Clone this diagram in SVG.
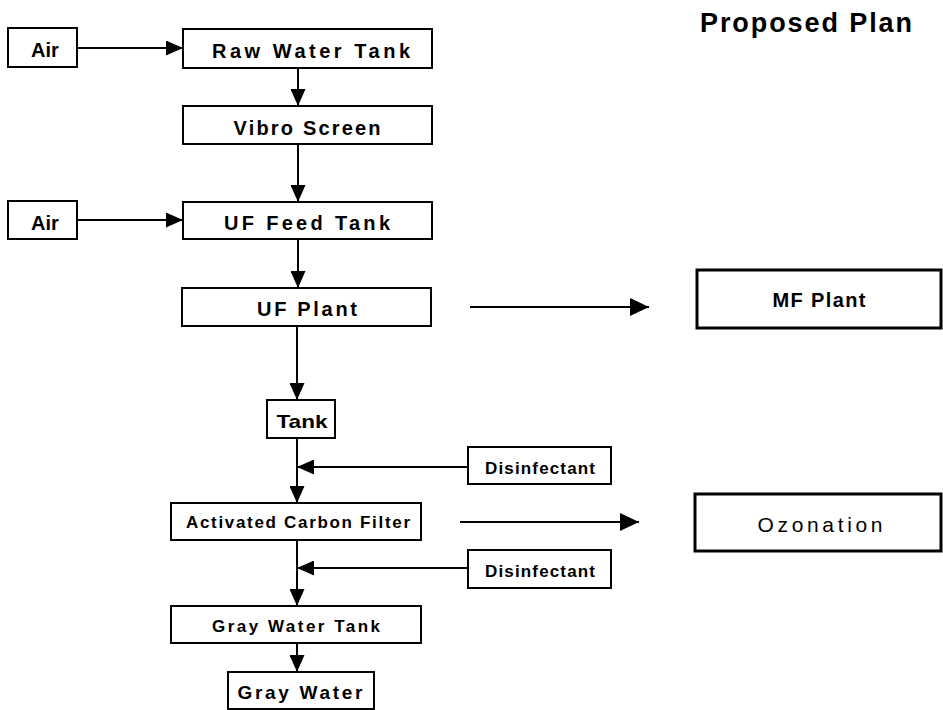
<svg xmlns="http://www.w3.org/2000/svg" width="943" height="710" viewBox="0 0 943 710">
<style>
.box{fill:#fff;stroke:#000;stroke-width:2}
.bigbox{fill:#fff;stroke:#000;stroke-width:3}
.t{font-family:"Liberation Sans",Arial,sans-serif;font-weight:bold;fill:#000;text-anchor:middle}
.line{stroke:#000;stroke-width:2;fill:none}
</style>
<defs>
<marker id="ah" markerUnits="userSpaceOnUse" markerWidth="17" markerHeight="15" refX="17" refY="7.5" orient="auto">
<path d="M0,0 L17,7.5 L0,15 z" fill="#000"/>
</marker>
<marker id="ahb" markerUnits="userSpaceOnUse" markerWidth="19" markerHeight="18" refX="19" refY="9" orient="auto">
<path d="M0,0 L19,9 L0,18 z" fill="#000"/>
</marker>
</defs>

<text class="t" x="806" y="32" font-size="27" textLength="212" lengthAdjust="spacing">Proposed  Plan</text>

<g id="connectors">
<line class="line" x1="77" y1="48" x2="183" y2="48" marker-end="url(#ah)"/>
<line class="line" x1="298" y1="68" x2="298" y2="106" marker-end="url(#ah)"/>
<line class="line" x1="298" y1="144" x2="298" y2="202" marker-end="url(#ah)"/>
<line class="line" x1="77" y1="220" x2="183" y2="220" marker-end="url(#ah)"/>
<line class="line" x1="298" y1="239" x2="298" y2="288" marker-end="url(#ah)"/>
<line class="line" x1="297" y1="326" x2="297" y2="400" marker-end="url(#ah)"/>
<line class="line" x1="297" y1="438" x2="297" y2="503" marker-end="url(#ah)"/>
<line class="line" x1="468" y1="467" x2="297" y2="467" marker-end="url(#ah)"/>
<line class="line" x1="297" y1="540" x2="297" y2="606" marker-end="url(#ah)"/>
<line class="line" x1="468" y1="568" x2="297" y2="568" marker-end="url(#ah)"/>
<line class="line" x1="297" y1="643" x2="297" y2="672" marker-end="url(#ah)"/>
<line class="line" x1="470" y1="307" x2="649" y2="307" marker-end="url(#ahb)"/>
<line class="line" x1="460" y1="522" x2="639" y2="522" marker-end="url(#ahb)"/>
</g>

<g id="air1"><rect class="box" x="8" y="28" width="69" height="39"/><text class="t" x="45" y="57" font-size="20">Air</text></g>
<g id="raw-water-tank"><rect class="box" x="183" y="29" width="249" height="39"/><text class="t" x="311" y="58" font-size="20" textLength="198" lengthAdjust="spacing">Raw Water Tank</text></g>
<g id="vibro-screen"><rect class="box" x="183" y="106" width="249" height="38"/><text class="t" x="307" y="135" font-size="20" textLength="147" lengthAdjust="spacing">Vibro Screen</text></g>
<g id="air2"><rect class="box" x="8" y="201" width="69" height="38"/><text class="t" x="45" y="230" font-size="20">Air</text></g>
<g id="uf-feed-tank"><rect class="box" x="183" y="202" width="249" height="37"/><text class="t" x="307" y="230" font-size="20" textLength="166" lengthAdjust="spacing">UF Feed Tank</text></g>
<g id="uf-plant"><rect class="box" x="182" y="288" width="249" height="38"/><text class="t" x="307" y="316" font-size="20" textLength="100" lengthAdjust="spacing">UF Plant</text></g>
<g id="tank"><rect class="box" x="267" y="400" width="68" height="38"/><text class="t" x="302" y="428" font-size="19" textLength="51" lengthAdjust="spacingAndGlyphs">Tank</text></g>
<g id="disinfectant1"><rect class="box" x="468" y="447" width="143" height="37"/><text class="t" x="540" y="474" font-size="17" textLength="110" lengthAdjust="spacing">Disinfectant</text></g>
<g id="activated-carbon-filter"><rect class="box" x="171" y="503" width="250" height="37"/><text class="t" x="298" y="528" font-size="17" textLength="224" lengthAdjust="spacing">Activated Carbon Filter</text></g>
<g id="disinfectant2"><rect class="box" x="468" y="550" width="143" height="38"/><text class="t" x="540" y="577" font-size="17" textLength="110" lengthAdjust="spacing">Disinfectant</text></g>
<g id="gray-water-tank"><rect class="box" x="171" y="606" width="250" height="37"/><text class="t" x="296" y="632" font-size="17" textLength="168" lengthAdjust="spacing">Gray Water Tank</text></g>
<g id="gray-water"><rect class="box" x="228" y="672" width="146" height="37"/><text class="t" x="300" y="699" font-size="19" textLength="125" lengthAdjust="spacing">Gray Water</text></g>
<g id="mf-plant"><rect class="bigbox" x="697" y="270" width="244" height="58"/><text class="t" x="819" y="307" font-size="20" textLength="93" lengthAdjust="spacing">MF Plant</text></g>
<g id="ozonation"><rect class="bigbox" x="695" y="494" width="246" height="57"/><text class="t" x="820" y="532" font-size="21" style="font-weight:normal" textLength="125" lengthAdjust="spacing">Ozonation</text></g>
</svg>
